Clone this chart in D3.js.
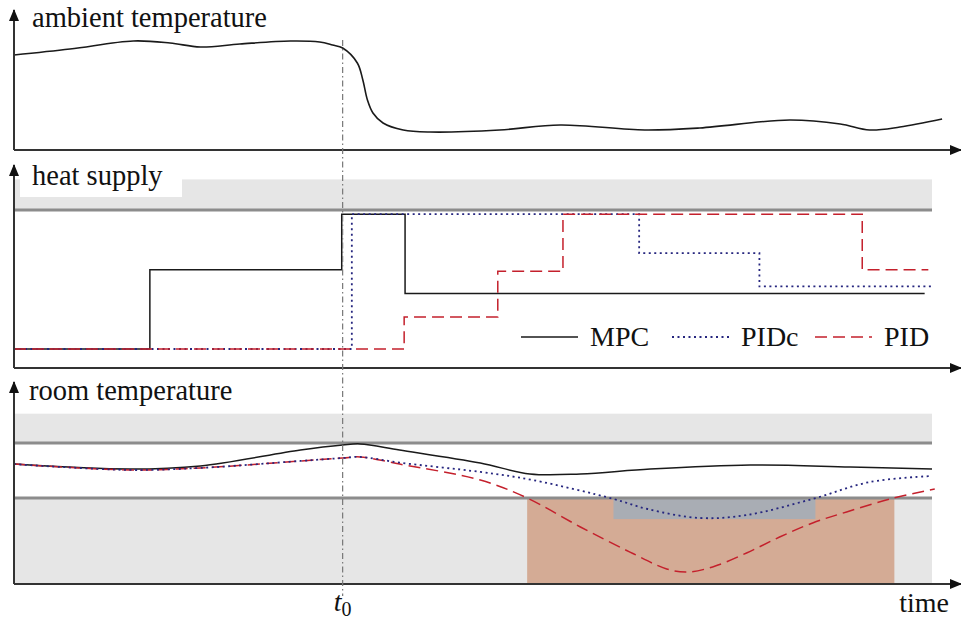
<!DOCTYPE html>
<html>
<head>
<meta charset="utf-8">
<script src="https://d3js.org/d3.v7.min.js"></script>
<style>
  body { margin: 0; background: #fff; }
  text { font-family: "Liberation Serif", "DejaVu Serif", serif; fill: #111; }
</style>
</head>
<body>
<div id="chart"></div>
<script>
// Time axis (arbitrary units), t0 marks the weather change
var t0 = 35.8;
var tEnd = 100;

// Ambient temperature [time, value]
var ambient = [
  [0, 9.5], [6.1, 10.1], [13.0, 10.9], [17.0, 10.7], [20.3, 10.3], [24.6, 10.6],
  [30.1, 10.9], [33.3, 10.8], [34.7, 10.5], [35.8, 10.2], [37.4, 8.7], [38.0, 7.0],
  [38.5, 5.0], [39.1, 3.7], [40.2, 2.7], [42.4, 2.0], [45.3, 1.8], [52.9, 2.0],
  [59.5, 2.5], [68.7, 2.0], [74.7, 2.2], [84.5, 3.0], [90.0, 2.6], [93.2, 2.0],
  [96.5, 2.3], [101.1, 3.1]
];

// Heat supply steps [time the level starts, % of max]
var heatMax = 100;
var heatBandTop = 122;
var mpcHeat = [[0, 0], [14.8, 57], [35.7, 97], [42.6, 40], [99.2, 40]];
var pidcHeat = [[0, 0], [36.8, 97], [68.1, 69], [81.2, 45], [100, 45]];
var pidHeat = [[0, 0], [42.5, 23], [52.7, 56], [59.8, 97], [92.4, 57], [99.6, 57]];

// Room temperature comfort limits and band
var roomLo = 20;
var roomHi = 23;
var roomBandTop = 24.6;
var roomAxisMin = 15.3;

// Room temperature [time, value]
var mpcRoom = [
  [0, 21.85], [12.6, 21.58], [20.3, 21.75], [31.2, 22.62], [35.8, 22.89], [37.7, 22.95],
  [42.0, 22.62], [50.8, 21.91], [56.2, 21.31], [61.7, 21.31], [69.3, 21.58],
  [80.2, 21.80], [91.1, 21.69], [100, 21.58]
];
var pidcRoom = [
  [0, 21.85], [12.6, 21.53], [20.3, 21.64], [31.2, 22.02], [35.8, 22.18], [37.7, 22.24],
  [42.0, 21.93], [50.8, 21.42], [56.5, 20.98], [65.3, 19.95], [69.0, 19.40],
  [74.7, 18.91], [79.8, 19.07], [87.0, 19.95], [93.2, 20.87], [100, 21.20]
];
var pidRoom = [
  [0, 21.85], [12.6, 21.53], [20.3, 21.64], [31.2, 22.02], [35.8, 22.18], [37.7, 22.24],
  [42.0, 21.85], [50.8, 20.98], [55.9, 20.0], [61.7, 18.42], [67.1, 17.05],
  [71.1, 16.13], [73.3, 15.96], [76.1, 16.24], [79.8, 17.00], [83.4, 17.87],
  [87.0, 18.64], [90.7, 19.24], [95.8, 20.0], [100.3, 20.49]
];

// Comfort violations: [start, end, lowest value]
var pidViolation = [55.9, 95.9, roomAxisMin];
var pidcViolation = [65.3, 87.3, 18.85];

// Legend
var series = ["MPC", "PIDc", "PID"];
var colors = { MPC: "#1a1a1a", PIDc: "#26267f", PID: "#c4202c" };
var dashes = { MPC: null, PIDc: "2,3.5", PID: "12,6" };

// SVG setup
var svgWidth = 961;
var svgHeight = 620;
var svg = d3.select("#chart")
            .append("svg")
            .attr("width", svgWidth)
            .attr("height", svgHeight);

var defs = svg.append("defs");
defs.append("marker")
    .attr("id", "arrow")
    .attr("viewBox", "0 0 12 10")
    .attr("refX", 11)
    .attr("refY", 5)
    .attr("markerWidth", 12)
    .attr("markerHeight", 10)
    .attr("markerUnits", "userSpaceOnUse")
    .attr("orient", "auto")
    .append("path")
    .attr("d", "M0,0 L12,5 L0,10 Z")
    .attr("fill", "#111");

// Shared time scale
var x = d3.scaleLinear().domain([0, tEnd]).range([14, 932]);

// Panel scales
var yAmb = d3.scaleLinear().domain([0, 12]).range([150, 30]);
var yHeat = d3.scaleLinear().domain([0, heatMax]).range([349, 210]);
var yRoom = d3.scaleLinear().domain([roomLo, roomHi]).range([498, 443]);

function drawAxes(yBottom, yTop) {
  svg.append("line")
     .attr("x1", 14).attr("x2", 14)
     .attr("y1", yBottom).attr("y2", yTop)
     .attr("stroke", "#333").attr("stroke-width", 2)
     .attr("marker-end", "url(#arrow)");
  svg.append("line")
     .attr("x1", 14).attr("x2", 961)
     .attr("y1", yBottom).attr("y2", yBottom)
     .attr("stroke", "#333").attr("stroke-width", 2)
     .attr("marker-end", "url(#arrow)");
}

function drawLine(data, name, curve, width) {
  var line = d3.line()
               .x(function(d) { return x(d[0]); })
               .y(function(d) { return d[1]; })
               .curve(curve);
  svg.append("path")
     .datum(data)
     .attr("d", line)
     .attr("fill", "none")
     .attr("stroke", colors[name])
     .attr("stroke-width", width || 1.5)
     .attr("stroke-dasharray", dashes[name]);
}

// ---- Panel 1: ambient temperature
drawLine(ambient.map(function(d) { return [d[0], yAmb(d[1])]; }), "MPC", d3.curveCatmullRom, 1.6);

// ---- Panel 2: heat supply
svg.append("rect")
   .attr("x", x(0)).attr("width", x(tEnd) - x(0))
   .attr("y", yHeat(heatBandTop)).attr("height", yHeat(heatMax) - yHeat(heatBandTop))
   .attr("fill", "#e6e6e6");
svg.append("line")
   .attr("x1", x(0)).attr("x2", x(tEnd))
   .attr("y1", yHeat(heatMax)).attr("y2", yHeat(heatMax))
   .attr("stroke", "#8c8c8c").attr("stroke-width", 3);
svg.append("rect")
   .attr("x", 20).attr("y", 166).attr("width", 162).attr("height", 31)
   .attr("fill", "#fff");

drawLine(mpcHeat.map(function(d) { return [d[0], yHeat(d[1])]; }), "MPC", d3.curveStepAfter, 1.5);
drawLine(pidcHeat.map(function(d) { return [d[0], yHeat(d[1])]; }), "PIDc", d3.curveStepAfter, 1.8);
drawLine(pidHeat.map(function(d) { return [d[0], yHeat(d[1])]; }), "PID", d3.curveStepAfter, 1.5);

// ---- Panel 3: room temperature
svg.append("rect")
   .attr("x", x(0)).attr("width", x(tEnd) - x(0))
   .attr("y", yRoom(roomBandTop)).attr("height", yRoom(roomHi) - yRoom(roomBandTop))
   .attr("fill", "#e6e6e6");
svg.append("rect")
   .attr("x", x(0)).attr("width", x(tEnd) - x(0))
   .attr("y", yRoom(roomLo)).attr("height", yRoom(roomAxisMin) - yRoom(roomLo))
   .attr("fill", "#e6e6e6");
svg.append("rect")
   .attr("x", x(pidViolation[0])).attr("width", x(pidViolation[1]) - x(pidViolation[0]))
   .attr("y", yRoom(roomLo)).attr("height", yRoom(pidViolation[2]) - yRoom(roomLo))
   .attr("fill", "#d4ab95");
svg.append("rect")
   .attr("x", x(pidcViolation[0])).attr("width", x(pidcViolation[1]) - x(pidcViolation[0]))
   .attr("y", yRoom(roomLo)).attr("height", yRoom(pidcViolation[2]) - yRoom(roomLo))
   .attr("fill", "#a9adb4");
[roomLo, roomHi].forEach(function(v) {
  svg.append("line")
     .attr("x1", x(0)).attr("x2", x(tEnd))
     .attr("y1", yRoom(v)).attr("y2", yRoom(v))
     .attr("stroke", "#8c8c8c").attr("stroke-width", 3);
});

drawLine(mpcRoom.map(function(d) { return [d[0], yRoom(d[1])]; }), "MPC", d3.curveCatmullRom, 1.5);
drawLine(pidRoom.map(function(d) { return [d[0], yRoom(d[1])]; }), "PID", d3.curveCatmullRom, 1.5);
drawLine(pidcRoom.map(function(d) { return [d[0], yRoom(d[1])]; }), "PIDc", d3.curveCatmullRom, 1.8);

// Axes with arrows
drawAxes(150, 10);
drawAxes(368, 165);
drawAxes(584, 382);

// t0 marker
svg.append("line")
   .attr("x1", x(t0)).attr("x2", x(t0))
   .attr("y1", 40).attr("y2", 596)
   .attr("stroke", "#777").attr("stroke-width", 1.2)
   .attr("stroke-dasharray", "6,3,1.5,3");

// Panel titles
svg.append("text").attr("x", 32).attr("y", 27).attr("font-size", "28.5px").text("ambient temperature");
svg.append("text").attr("x", 32).attr("y", 185).attr("font-size", "28.5px").text("heat supply");
svg.append("text").attr("x", 29).attr("y", 400).attr("font-size", "28.5px").text("room temperature");

// Time labels
var t0Label = svg.append("text")
   .attr("x", x(t0)).attr("y", 611)
   .attr("font-size", "28px")
   .attr("text-anchor", "middle");
t0Label.append("tspan").attr("font-style", "italic").text("t");
t0Label.append("tspan").attr("font-size", "20px").attr("dy", 5).text("0");
svg.append("text").attr("x", 949).attr("y", 612).attr("font-size", "28px")
   .attr("text-anchor", "end").text("time");

// Legend
var legendX = { MPC: 521, PIDc: 672, PID: 815 };
series.forEach(function(name) {
  svg.append("line")
     .attr("x1", legendX[name]).attr("x2", legendX[name] + 57)
     .attr("y1", 337).attr("y2", 337)
     .attr("stroke", colors[name])
     .attr("stroke-width", name === "PIDc" ? 1.8 : 1.5)
     .attr("stroke-dasharray", dashes[name]);
  svg.append("text")
     .attr("x", legendX[name] + 69).attr("y", 346)
     .attr("font-size", "28px")
     .text(name);
});
</script>
</body>
</html>
